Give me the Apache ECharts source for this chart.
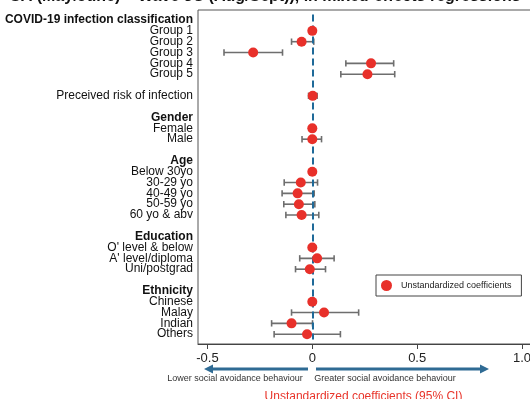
<!DOCTYPE html>
<html>
<head>
<meta charset="utf-8">
<script src="https://cdn.jsdelivr.net/npm/echarts@6/dist/echarts.min.js"></script>
<style>
html,body{margin:0;padding:0;background:#fff;}
#chart{width:530px;height:399px;}
</style>
</head>
<body>
<div id="chart"></div>
<script>
// Row labels (top to bottom); '' = spacer row
const categories = [
  'COVID-19 infection classification', 'Group 1', 'Group 2', 'Group 3', 'Group 4', 'Group 5',
  '', 'Preceived risk of infection', '',
  'Gender', 'Female', 'Male', '',
  'Age', 'Below 30yo', '30-29 yo', '40-49 yo', '50-59 yo', '60 yo & abv', '',
  'Education', "O' level & below", "A' level/diploma", 'Uni/postgrad', '',
  'Ethnicity', 'Chinese', 'Malay', 'Indian', 'Others'
];
const headers = ['COVID-19 infection classification', 'Gender', 'Age', 'Education', 'Ethnicity'];

// Unstandardized coefficients and 95% CI (null = no estimate)
const coef = [
  null, 0, -0.051, -0.282, 0.280, 0.263,
  null, 0.002, null,
  null, 0, 0.0, null,
  null, 0, -0.055, -0.070, -0.064, -0.051, null,
  null, 0, 0.023, -0.012, null,
  null, 0, 0.056, -0.099, -0.025
];
const ciLow = [
  null, null, -0.099, -0.421, 0.160, 0.136,
  null, -0.018, null,
  null, null, -0.049, null,
  null, null, -0.134, -0.144, -0.136, -0.126, null,
  null, null, -0.060, -0.080, null,
  null, null, -0.099, -0.194, -0.182
];
const ciHigh = [
  null, null, 0.007, -0.142, 0.388, 0.393,
  null, 0.023, null,
  null, null, 0.044, null,
  null, null, 0.025, 0.009, 0.012, 0.031, null,
  null, null, 0.104, 0.063, null,
  null, null, 0.221, 0.001, 0.134
];
const xTicks = [-0.5, 0, 0.5, 1.0];
const legendName = 'Unstandardized coefficients';

const pointData = [];
const ciData = [];
coef.forEach((v, i) => { if (v !== null) pointData.push([v, i]); });
ciLow.forEach((v, i) => { if (v !== null) ciData.push([v, ciHigh[i], i]); });

const xMin = -0.545, xMax = 1.1;
const chart = echarts.init(document.getElementById('chart'));
const FONT = '"Liberation Sans", Arial, Helvetica, sans-serif';

chart.setOption({
  animation: false,
  backgroundColor: '#fff',
  textStyle: { fontFamily: FONT },
  grid: [
    { left: 198, top: 10, width: 345, height: 334, show: true, borderColor: '#555', borderWidth: 1, backgroundColor: 'transparent', containLabel: false, outerBoundsMode: 'none' },
    { left: 198, top: 14.6, width: 345, height: 325, containLabel: false, outerBoundsMode: 'none' }
  ],
  xAxis: [
    {
      gridIndex: 0, type: 'value', min: xMin, max: xMax,
      splitLine: { show: false },
      axisLine: { show: true, lineStyle: { color: '#444', width: 1 } },
      axisTick: { show: true, customValues: xTicks, length: 5, lineStyle: { color: '#444' } },
      axisLabel: {
        customValues: xTicks, margin: 8, fontSize: 13, color: '#222', fontFamily: FONT,
        formatter: v => (v === 0 ? '0' : v.toFixed(1))
      },
      name: 'Unstandardized coefficients (95% CI)',
      nameLocation: 'middle', nameGap: 47,
      nameTextStyle: { color: '#e8352b', fontSize: 12, fontFamily: FONT, padding: [0, 14, 0, 0] }
    },
    { gridIndex: 1, type: 'value', min: xMin, max: xMax, show: false }
  ],
  yAxis: [
    { gridIndex: 0, type: 'value', min: 0, max: 1, show: false },
    {
      gridIndex: 1, type: 'category', data: categories, inverse: true,
      axisLine: { show: false }, axisTick: { show: false }, splitLine: { show: false },
      axisLabel: {
        interval: 0, margin: 5, color: '#111', fontSize: 12, fontFamily: FONT,
        formatter: v => (headers.includes(v) ? '{h|' + v + '}' : v),
        rich: { h: { fontWeight: 'bold', fontSize: 12, color: '#111', fontFamily: FONT } }
      }
    }
  ],
  legend: {
    data: [{ name: legendName, icon: 'circle' }],
    left: 376, top: 275,
    orient: 'horizontal',
    itemWidth: 11, itemHeight: 11, itemGap: 10,
    borderColor: '#444', borderWidth: 1, borderRadius: 0,
    padding: [5, 10, 5, 5],
    textStyle: { fontSize: 9, color: '#222', fontFamily: FONT, padding: [0, 0, 0, 4] }
  },
  series: [
    {
      type: 'custom', name: 'CI', xAxisIndex: 1, yAxisIndex: 1,
      data: ciData, encode: { x: [0, 1], y: 2 }, z: 2, clip: false,
      renderItem: (params, api) => {
        const lo = api.coord([api.value(0), api.value(2)]);
        const hi = api.coord([api.value(1), api.value(2)]);
        const c = 3.2;
        const st = { stroke: '#6e6e6e', lineWidth: 1.6 };
        return {
          type: 'group',
          children: [
            { type: 'line', shape: { x1: lo[0], y1: lo[1], x2: hi[0], y2: hi[1] }, style: st },
            { type: 'line', shape: { x1: lo[0], y1: lo[1] - c, x2: lo[0], y2: lo[1] + c }, style: st },
            { type: 'line', shape: { x1: hi[0], y1: hi[1] - c, x2: hi[0], y2: hi[1] + c }, style: st }
          ]
        };
      }
    },
    {
      type: 'scatter', name: legendName, xAxisIndex: 1, yAxisIndex: 1,
      data: pointData, symbol: 'circle', symbolSize: 10, z: 4,
      itemStyle: { color: '#e8302a', opacity: 1 },
      markLine: {
        silent: true, symbol: 'none', z: 3,
        label: { show: false },
        lineStyle: { color: '#1f6a99', type: [7, 4], width: 2 },
        data: [{ xAxis: 0 }]
      }
    }
  ],
  graphic: [
    {
      type: 'text', left: 10, top: -11,
      style: { text: 'SA (May/June) \u2013 Wave 3C (Aug/Sept)), in mixed-effects regressions', font: 'bold 16px ' + FONT, fill: '#111' }
    },
    { type: 'line', shape: { x1: 308, y1: 369, x2: 212, y2: 369 }, style: { stroke: '#2f6b94', lineWidth: 3 } },
    { type: 'polygon', shape: { points: [[204, 369], [213, 364.5], [213, 373.5]] }, style: { fill: '#2f6b94' } },
    { type: 'line', shape: { x1: 316, y1: 369, x2: 481, y2: 369 }, style: { stroke: '#2f6b94', lineWidth: 3 } },
    { type: 'polygon', shape: { points: [[489, 369], [480, 364.5], [480, 373.5]] }, style: { fill: '#2f6b94' } },
    {
      type: 'text', x: 235, y: 379,
      style: { text: 'Lower social avoidance behaviour', font: '9px ' + FONT, fill: '#333', align: 'center', verticalAlign: 'middle' }
    },
    {
      type: 'text', x: 385, y: 379,
      style: { text: 'Greater social avoidance behaviour', font: '9px ' + FONT, fill: '#333', align: 'center', verticalAlign: 'middle' }
    }
  ]
});
</script>
</body>
</html>
